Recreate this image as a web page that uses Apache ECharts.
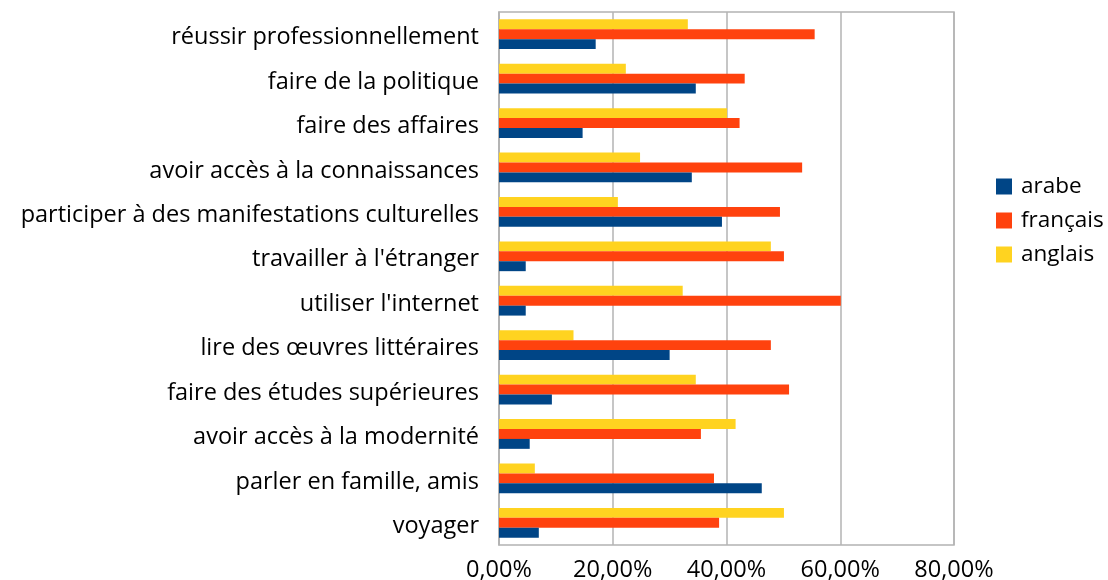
<!DOCTYPE html>
<html>
<head>
<meta charset="utf-8">
<script src="https://cdn.jsdelivr.net/npm/echarts@6/dist/echarts.min.js"></script>
<style>
  html, body { margin: 0; padding: 0; background: #fff; }
  #chart { width: 1108px; height: 580px; }
</style>
</head>
<body>
<div id="chart"></div>
<script>
// categories, top to bottom as in the picture
const categories = [
  "réussir professionnellement",
  "faire de la politique",
  "faire des affaires",
  "avoir accès à la connaissances",
  "participer à des manifestations culturelles",
  "travailler à l'étranger",
  "utiliser l'internet",
  "lire des œuvres littéraires",
  "faire des études supérieures",
  "avoir accès à la modernité",
  "parler en famille, amis",
  "voyager"
];

// percentages, same order as categories
const arabe    = [17.0, 34.6, 14.7, 33.9, 39.2, 4.7, 4.7, 30.0, 9.3, 5.4, 46.2, 7.0];
const francais = [55.5, 43.2, 42.3, 53.3, 49.4, 50.1, 60.1, 47.8, 51.0, 35.5, 37.8, 38.7];
const anglais  = [33.2, 22.3, 40.1, 24.8, 20.9, 47.8, 32.3, 13.1, 34.6, 41.6, 6.3, 50.1];

const xTicks = [0, 20, 40, 60, 80];

const font = "Open Sans";
const chart = echarts.init(document.getElementById('chart'));

// ECharts puts index 0 at the bottom, so flip the categories
const rev = a => a.slice().reverse();

chart.setOption({
  animation: false,
  textStyle: { fontFamily: font },
  grid: {
    left: 499, right: 154, top: 12, bottom: 35,
    outerBoundsMode: 'none',
    show: true, borderColor: '#b3b3b3', borderWidth: 1.5
  },
  legend: {
    orient: 'vertical',
    left: 991, top: 170,
    itemWidth: 16, itemHeight: 16, itemGap: 11,
    icon: 'rect',
    textStyle: { fontFamily: font, fontSize: 22.5, color: '#000', padding: [0, 0, 0, 4] },
    data: ['arabe', 'français', 'anglais']
  },
  xAxis: {
    type: 'value',
    min: xTicks[0], max: xTicks[xTicks.length - 1], interval: 20,
    axisLine: { show: false },
    axisTick: { show: false },
    splitLine: { lineStyle: { color: '#b3b3b3', width: 1.5 } },
    axisLabel: {
      fontFamily: font, fontSize: 23.5, color: '#000', margin: 13,
      formatter: v => v.toFixed(2).replace('.', ',') + '%'
    }
  },
  yAxis: {
    type: 'category',
    data: rev(categories),
    axisLine: { lineStyle: { color: '#b3b3b3', width: 1.5 } },
    axisTick: { show: false },
    axisLabel: {
      margin: 20,
      formatter: v => '{c|' + v + '}',
      rich: { c: { fontFamily: font, fontSize: 23.5, color: '#000', padding: [7, 0, 0, 0] } }
    }
  },
  // in a horizontal bar the first series sits on top of each group
  series: [
    { name: 'anglais', type: 'bar', data: rev(anglais), itemStyle: { color: '#ffd320' }, barGap: '0%', barCategoryGap: '33%' },
    { name: 'français', type: 'bar', data: rev(francais), itemStyle: { color: '#ff420e' } },
    { name: 'arabe', type: 'bar', data: rev(arabe), itemStyle: { color: '#004586' } }
  ]
});
</script>
</body>
</html>
